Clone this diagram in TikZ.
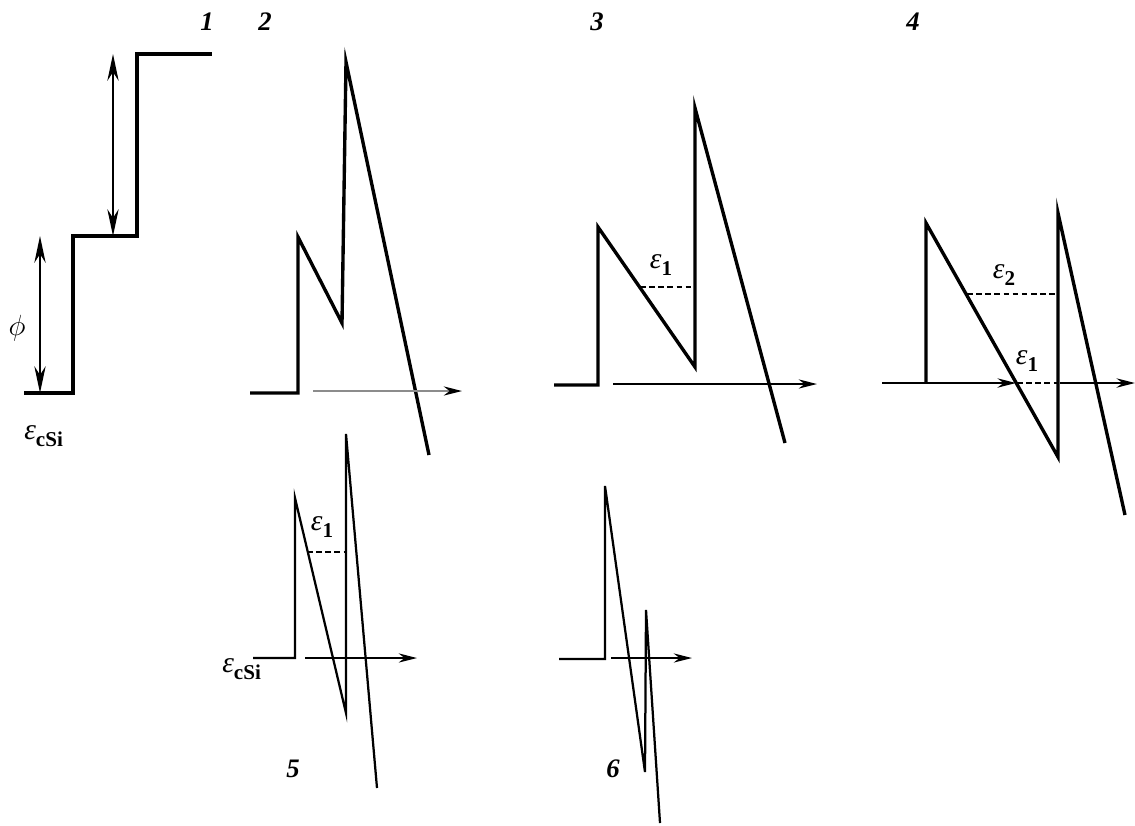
\documentclass[tikz,border=0pt]{standalone}
\usepackage{fontspec}
\setmainfont{Liberation Serif}
\usetikzlibrary{arrows.meta}

\newcommand{\epsub}[1]{\textit{ε}\raisebox{-5pt}{\fontsize{15}{16}\selectfont\bfseries #1}}

\begin{document}
\begin{tikzpicture}[
    x=0.025cm, y=-0.025cm,
    band/.style={line width=2.4pt},
    thinband/.style={line width=1.6pt},
    xarrow/.style={-{Stealth[length=13pt,width=6.5pt]}, line width=1.5pt},
    gaparrow/.style={{Stealth[length=19pt,width=8pt]}-{Stealth[length=19pt,width=8pt]}, line width=2pt},
    gapline/.style={line width=1.7pt, dash pattern=on 4pt off 2.5pt},
    panelno/.style={font=\fontsize{19}{22}\selectfont\bfseries\itshape, inner sep=0pt},
    lbl/.style={font=\fontsize{21}{23}\selectfont, inner sep=0pt}
]
    \useasboundingbox (0,0) rectangle (1135,825);

    % panel numbers
    \node[panelno] (n1) at (207,22) {1};
    \node[panelno] (n2) at (265,22) {2};
    \node[panelno] (n3) at (597,22) {3};
    \node[panelno] (n4) at (913,22) {4};
    \node[panelno] (n5) at (293,769) {5};
    \node[panelno] (n6) at (613,769) {6};

    % 1
    \coordinate (a1) at (24,393);
    \coordinate (a2) at (73,393);
    \coordinate (a3) at (73,236);
    \coordinate (a4) at (137,236);
    \coordinate (a5) at (137,54);
    \coordinate (a6) at (212,54);
    \draw[band] (a1) -- (a2) -- (a3) -- (a4) -- (a5) -- (a6);
    \coordinate (phib) at (40,393);
    \coordinate (phit) at (40,236);
    \coordinate (gapb) at (113,236);
    \coordinate (gapt) at (113,54);
    \draw[gaparrow] (phib) -- (phit);
    \draw[gaparrow] (gapb) -- (gapt);
    \node[lbl] (phi) at (17,328) {$\phi$};
    \node[lbl, anchor=west] (csi1) at (24,436) {\epsub{cSi}};

    % 2
    \coordinate (b1) at (250,393);
    \coordinate (b2) at (298,393);
    \coordinate (b3) at (298,237);
    \coordinate (b4) at (342,323);
    \coordinate (b5) at (346,62);
    \coordinate (b6) at (429,455);
    \draw[band] (b1) -- (b2) -- (b3) -- (b4) -- (b5) -- (b6);
    \coordinate (bx0) at (313,391);
    \coordinate (bx1) at (462,391);
    \draw[xarrow, draw=black!45, -{Stealth[length=13pt,width=6.5pt,black]}] (bx0) -- (bx1);

    % 3
    \coordinate (c1) at (554,385);
    \coordinate (c2) at (598,385);
    \coordinate (c3) at (598,227);
    \coordinate (c4) at (695,367);
    \coordinate (c5) at (695,108);
    \coordinate (c6) at (785,443);
    \draw[band] (c1) -- (c2) -- (c3) -- (c4) -- (c5) -- (c6);
    \coordinate (cl0) at (640,287);
    \coordinate (cl1) at (695,287);
    \draw[gapline] (cl0) -- (cl1);
    \node[lbl] (ce1) at (661,265) {\epsub{1}};
    \coordinate (cx0) at (613,384);
    \coordinate (cx1) at (817,384);
    \draw[xarrow] (cx0) -- (cx1);

    % 4
    \coordinate (dx0) at (882,383);
    \coordinate (dx1) at (1016,383);
    \draw[xarrow, line width=2.1pt] (dx0) -- (dx1);
    \coordinate (d1) at (926,383);
    \coordinate (d2) at (926,223);
    \coordinate (d3) at (1058,457);
    \coordinate (d4) at (1058,213);
    \coordinate (d5) at (1125,515);
    \draw[band] (d1) -- (d2) -- (d3) -- (d4) -- (d5);
    \coordinate (dl0) at (967,294);
    \coordinate (dl1) at (1058,294);
    \draw[gapline] (dl0) -- (dl1);
    \coordinate (dm0) at (1017,383);
    \coordinate (dm1) at (1058,383);
    \draw[gapline] (dm0) -- (dm1);
    \coordinate (dx2) at (1060,383);
    \coordinate (dx3) at (1135,383);
    \draw[xarrow, line width=2.1pt] (dx2) -- (dx3);
    \node[lbl] (de2) at (1004,275) {\epsub{2}};
    \node[lbl] (de1) at (1027,361) {\epsub{1}};

    % 5
    \coordinate (e1) at (253,658);
    \coordinate (e2) at (295,658);
    \coordinate (e3) at (295,498);
    \coordinate (e4) at (346,713);
    \coordinate (e5) at (346,434);
    \coordinate (e6) at (377,788);
    \draw[thinband] (e1) -- (e2) -- (e3) -- (e4) -- (e5) -- (e6);
    \coordinate (el0) at (307,552);
    \coordinate (el1) at (346,552);
    \draw[gapline] (el0) -- (el1);
    \node[lbl] (ee1) at (322,527) {\epsub{1}};
    \coordinate (ex0) at (305,658);
    \coordinate (ex1) at (417,658);
    \draw[xarrow] (ex0) -- (ex1);
    \node[lbl, anchor=west] (csi5) at (222,669) {\epsub{cSi}};

    % 6
    \coordinate (f1) at (559,659);
    \coordinate (f2) at (605,659);
    \coordinate (f3) at (605,486);
    \coordinate (f4) at (645,772);
    \coordinate (f5) at (646,610);
    \coordinate (f6) at (660,823);
    \draw[thinband] (f1) -- (f2) -- (f3) -- (f4) -- (f5) -- (f6);
    \coordinate (fx0) at (611,658);
    \coordinate (fx1) at (692,658);
    \draw[xarrow] (fx0) -- (fx1);
\end{tikzpicture}
\end{document}
